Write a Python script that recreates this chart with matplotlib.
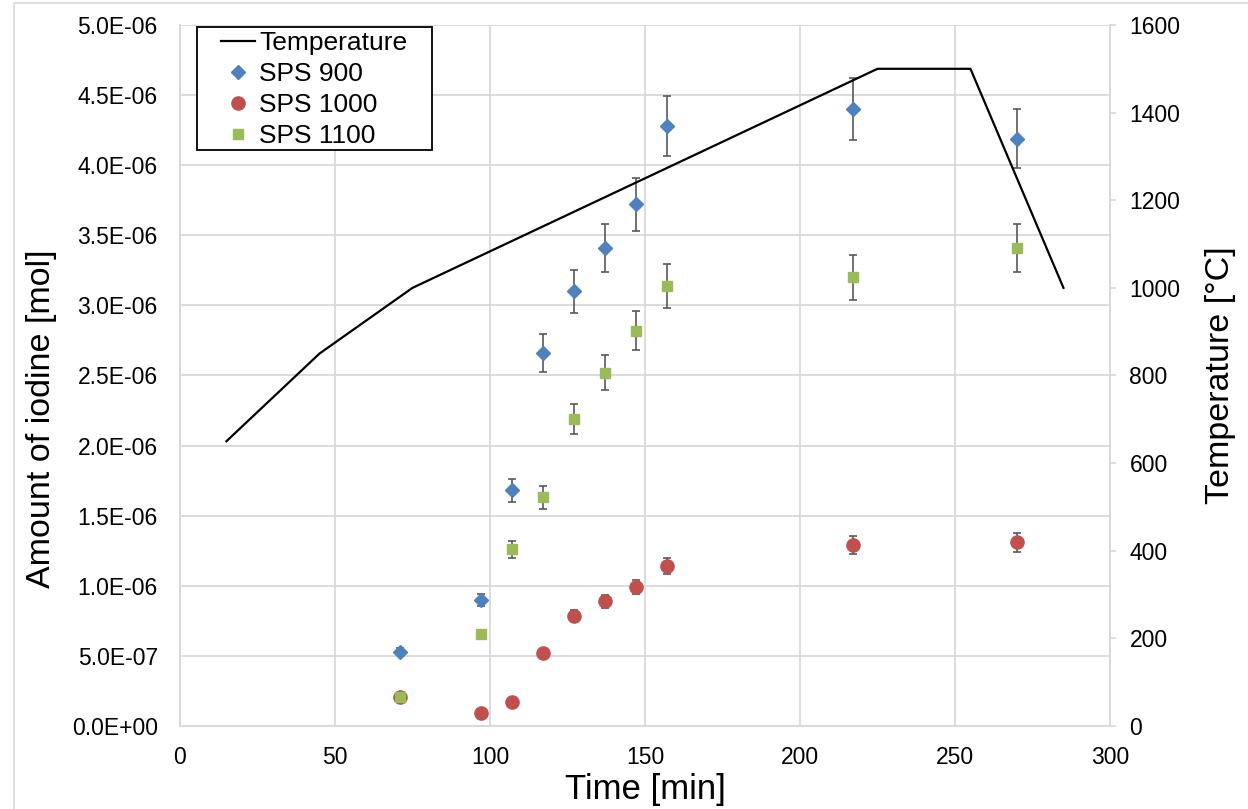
import numpy as np
import matplotlib.pyplot as plt
from matplotlib.patches import Rectangle
from matplotlib.lines import Line2D
from matplotlib.ticker import FuncFormatter

plt.rcParams['font.family'] = ['Liberation Sans', 'DejaVu Sans']

# ----- Data -----
temp_time = [15, 45, 75, 225, 255, 285]
temp_values = [650, 850, 1000, 1500, 1500, 1000]

sample_time = [71, 97, 107, 117, 127, 137, 147, 157, 217, 270]

sps900 = [0.53e-6, 0.90e-6, 1.68e-6, 2.66e-6, 3.10e-6, 3.41e-6, 3.72e-6, 4.28e-6, 4.40e-6, 4.19e-6]
sps900_err = [0.027e-6, 0.045e-6, 0.084e-6, 0.133e-6, 0.155e-6, 0.17e-6, 0.186e-6, 0.214e-6, 0.22e-6, 0.21e-6]

sps1000 = [0.21e-6, 0.09e-6, 0.17e-6, 0.52e-6, 0.785e-6, 0.89e-6, 0.99e-6, 1.14e-6, 1.29e-6, 1.31e-6]
sps1000_err = [0.011e-6, 0.005e-6, 0.009e-6, 0.026e-6, 0.039e-6, 0.045e-6, 0.05e-6, 0.057e-6, 0.065e-6, 0.066e-6]

sps1100 = [0.21e-6, 0.655e-6, 1.26e-6, 1.63e-6, 2.19e-6, 2.52e-6, 2.82e-6, 3.14e-6, 3.20e-6, 3.41e-6]
sps1100_err = [0.011e-6, 0.033e-6, 0.063e-6, 0.082e-6, 0.11e-6, 0.126e-6, 0.141e-6, 0.157e-6, 0.16e-6, 0.17e-6]

grid_col = '#d9d9d9'
err_col = '#595959'
c900, c1000, c1100 = '#4F81BD', '#C0504D', '#9BBB59'


def sci_fmt(v, pos):
    if v <= 0:
        return '0.0E+00'
    e = int(np.floor(np.log10(v) + 1e-9))
    return '%.1fE%+03d' % (v / 10 ** e, e)


fig = plt.figure(figsize=(12.48, 8.09), dpi=100)
ax = fig.add_axes([0.1442, 0.1026, 0.7452, 0.8665])
ax2 = ax.twinx()

# outer border
fig.patches.append(Rectangle((0.011, -0.05), 1.1, 1.046, transform=fig.transFigure,
                             fill=False, edgecolor=grid_col, linewidth=1.2))

# ----- Series -----
eb = dict(ecolor=err_col, elinewidth=1.2, capsize=2.8, capthick=1.2, zorder=3)
ax.errorbar(sample_time, sps900, yerr=sps900_err, fmt='D', color=c900, markersize=6.8, **eb)
ax.errorbar(sample_time, sps1000, yerr=sps1000_err, fmt='o', color=c1000, markersize=9.5, **eb)
ax.errorbar(sample_time, sps1100, yerr=sps1100_err, fmt='s', color=c1100, markersize=7.7, **eb)

ax2.plot(temp_time, temp_values, color='black', linewidth=1.6)

# ----- Axes -----
ax.set_xlim(0, 300)
ax.set_ylim(0, 5e-6)
ax.set_xticks(np.arange(0, 301, 50))
ax.set_yticks(np.arange(0, 5.01e-6, 0.5e-6))
ax.yaxis.set_major_formatter(FuncFormatter(sci_fmt))
ax2.set_ylim(0, 1600)
ax2.set_yticks(np.arange(0, 1601, 200))

ax.grid(True, color=grid_col, linewidth=1.3)
ax.set_axisbelow(True)
for a in (ax, ax2):
    for sp in ['left', 'bottom', 'right']:
        a.spines[sp].set_color(grid_col)
        a.spines[sp].set_linewidth(1.3)
    a.spines['top'].set_visible(False)

ax.tick_params(axis='y', length=0, labelsize=16.5, pad=16)
ax.tick_params(axis='x', length=0, labelsize=16.5, pad=14.5)
ax2.tick_params(axis='y', length=4, width=1.3, color=grid_col, labelsize=16.5, pad=10)

ax.set_xlabel('Time [min]', fontsize=25, labelpad=3)
ax.set_ylabel('Amount of iodine [mol]', fontsize=24.5)
ax.yaxis.set_label_coords(-0.1323, 0.439)
ax2.set_ylabel('Temperature [°C]', fontsize=24.5, labelpad=18)

# ----- Legend -----
handles = [
    Line2D([], [], color='black', linewidth=1.6),
    Line2D([], [], linestyle='none', marker='D', color=c900, markersize=6.8),
    Line2D([], [], linestyle='none', marker='o', color=c1000, markersize=9.5),
    Line2D([], [], linestyle='none', marker='s', color=c1100, markersize=7.7),
]
ax2.add_patch(Rectangle((0.0183, 0.8217), 0.2527, 0.1754, transform=ax2.transAxes,
                        facecolor='white', edgecolor='black', linewidth=1.3,
                        clip_on=False, zorder=4))
leg = ax2.legend(handles, ['Temperature', 'SPS 900', 'SPS 1000', 'SPS 1100'],
                 loc='upper left', bbox_to_anchor=(0.0441, 0.9914), fontsize=19,
                 frameon=False, handlelength=1.29, handletextpad=0.15,
                 borderpad=0, labelspacing=0.265, borderaxespad=0)
leg.set_zorder(5)

fig.savefig('out.png', dpi=100)
